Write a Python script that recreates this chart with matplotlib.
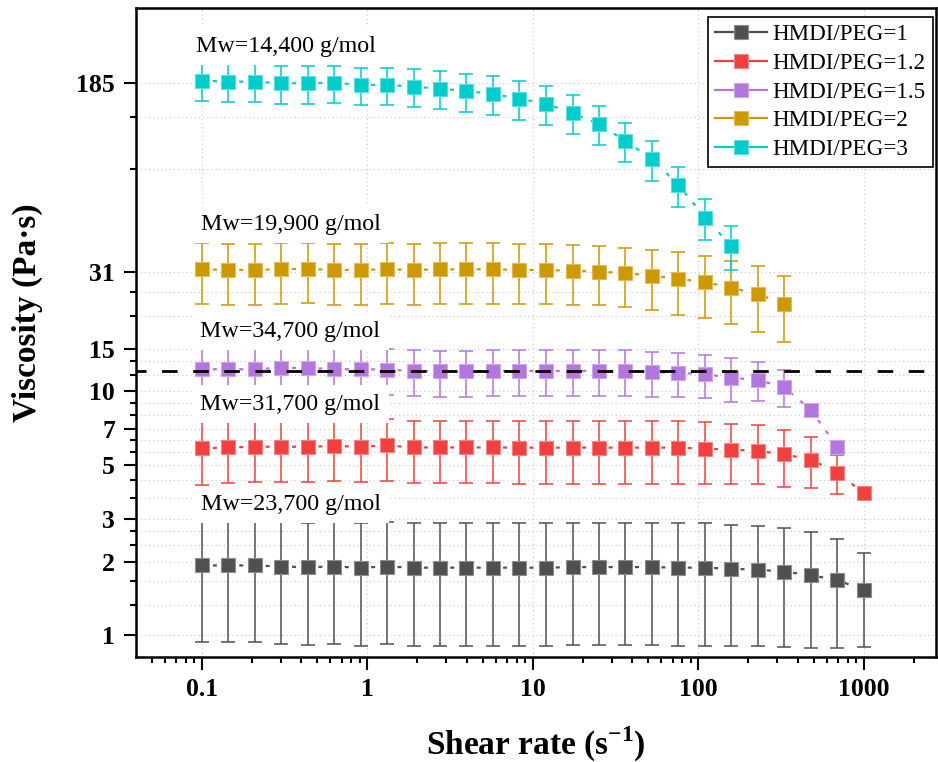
import matplotlib
matplotlib.use('Agg')
import matplotlib.pyplot as plt
from matplotlib.lines import Line2D
from matplotlib.ticker import FixedLocator, LogLocator, NullFormatter
from matplotlib.colors import to_rgb

plt.rcParams['font.family'] = ['Liberation Serif', 'DejaVu Serif']
plt.rcParams['mathtext.fontset'] = 'custom'
plt.rcParams['mathtext.rm'] = 'Liberation Serif'
plt.rcParams['mathtext.bf'] = 'Liberation Serif:bold'
plt.rcParams['lines.scale_dashes'] = False

# shear rate sweep (1/s)
shear_rate = [0.1, 0.145, 0.209, 0.302, 0.437, 0.631, 0.912, 1.32, 1.91, 2.75,
              3.98, 5.75, 8.32, 12.0, 17.4, 25.1, 36.3, 52.5, 75.9, 110,
              158, 229, 331, 479, 692, 1000]

# viscosity (Pa.s) and standard deviation for each HMDI/PEG ratio
visc_1 = [1.93, 1.93, 1.93, 1.91, 1.90, 1.91, 1.89, 1.91, 1.89, 1.89, 1.89, 1.89, 1.89,
          1.89, 1.90, 1.90, 1.90, 1.90, 1.89, 1.89, 1.87, 1.855, 1.82, 1.76, 1.68, 1.53]
err_1 = [0.99, 0.99, 0.99, 0.99, 0.99, 0.99, 0.99, 0.99, 0.99, 0.99, 0.99, 0.99, 0.99,
         0.99, 0.99, 0.99, 0.99, 0.99, 0.99, 0.99, 0.97, 0.95, 0.93, 0.88, 0.80, 0.64]

visc_12 = [5.84, 5.89, 5.93, 5.93, 5.93, 5.97, 5.93, 6.0, 5.89, 5.89, 5.89, 5.89, 5.88,
           5.88, 5.88, 5.88, 5.88, 5.88, 5.88, 5.82, 5.77, 5.70, 5.52, 5.25, 4.64, 3.83]
err_12 = [1.7, 1.7, 1.7, 1.7, 1.7, 1.7, 1.7, 1.7, 1.7, 1.7, 1.7, 1.7, 1.7,
          1.7, 1.7, 1.7, 1.7, 1.7, 1.7, 1.65, 1.6, 1.55, 1.45, 1.25, 0.83, 0.0]

visc_15 = [12.34, 12.34, 12.34, 12.5, 12.5, 12.34, 12.34, 12.3, 12.14, 12.1, 12.1, 12.14,
           12.14, 12.14, 12.14, 12.14, 12.14, 12.0, 11.93, 11.77, 11.39, 11.15, 10.40,
           8.40, 5.93]
err_15 = [2.6, 2.6, 2.6, 2.6, 2.6, 2.6, 2.6, 2.6, 2.6, 2.6, 2.6, 2.6,
          2.6, 2.6, 2.6, 2.6, 2.6, 2.5, 2.45, 2.4, 2.3, 2.05, 1.8, 0.0, 0.0]

visc_2 = [31.75, 31.55, 31.55, 31.75, 31.9, 31.55, 31.55, 31.75, 31.55, 31.75, 31.75,
          31.75, 31.55, 31.55, 31.3, 31.05, 30.6, 29.9, 29.0, 28.1, 26.7, 25.1, 22.9]
err_2 = [8.9, 8.9, 8.9, 8.9, 8.9, 8.9, 8.9, 8.9, 8.9, 8.9, 8.9, 8.9,
         8.75, 8.7, 8.6, 8.5, 8.4, 8.3, 8.3, 8.0, 7.7, 7.5, 7.0]

visc_3 = [189, 187.2, 187.2, 184.4, 184.4, 185.4, 181.4, 181.4, 178.5, 175.2, 171.4,
          166.6, 159.4, 152, 139.2, 125.5, 106.8, 90.1, 70.5, 51.8, 39.6]
err_3 = [33, 33, 33, 32.5, 32.5, 32.5, 32, 32, 31.5, 31, 30.5,
         30, 29, 28, 25.5, 22.5, 19.6, 17, 13.3, 10, 8]

labels = ['HMDI/PEG=1', 'HMDI/PEG=1.2', 'HMDI/PEG=1.5', 'HMDI/PEG=2', 'HMDI/PEG=3']
colors = ['#505050', '#F04040', '#B276DE', '#CC9900', '#00CCCC']
series = [(visc_1, err_1), (visc_12, err_12), (visc_15, err_15),
          (visc_2, err_2), (visc_3, err_3)]

# molecular weight notes: text, x, baseline y
mw_text = ['Mw=14,400 g/mol', 'Mw=19,900 g/mol', 'Mw=34,700 g/mol',
           'Mw=31,700 g/mol', 'Mw=23,700 g/mol']
mw_x = [0.093, 0.099, 0.098, 0.098, 0.099]
mw_y = [248.6, 46.0, 16.75, 8.40, 3.26]

ref_visc = 12.14

y_major = [1, 2, 3, 5, 7, 10, 15, 31, 185]
x_major = [0.1, 1, 10, 100, 1000]


def lighten(c, f=0.35):
    r, g, b = to_rgb(c)
    return (r + (1 - r) * f, g + (1 - g) * f, b + (1 - b) * f)


fig = plt.figure(figsize=(9.38, 7.62), dpi=100)
ax = fig.add_axes([0.145, 0.1378, 0.8529, 0.8517])

handles = []
for (v, e), c, lab in zip(series, colors, labels):
    x = shear_rate[:len(v)]
    ax.errorbar(x, v, yerr=e, fmt='none', ecolor=c, elinewidth=1.1,
                capsize=4.7, capthick=1.1, zorder=2)
    ax.plot(x, v, color=c, lw=1.6, ls=(1.45, (2.9, 6.6)), marker='s', ms=10,
            mfc=c, mec=lighten(c), mew=0.8, zorder=4)
    handles.append(Line2D([], [], color=c, lw=1.6, marker='s', ms=10,
                          mfc=c, mec=lighten(c), mew=0.8, label=lab))

for s, tx, ty in zip(mw_text, mw_x, mw_y):
    ax.text(tx, ty, s, fontsize=17.3, ha='left', va='baseline', zorder=3,
            bbox=dict(boxstyle='square,pad=0.35', fc='white', ec='none'))

ax.axhline(ref_visc, color='black', lw=2, ls=(4.0, (11.2, 11.2)), zorder=6)

ax.set_xscale('log')
ax.set_yscale('log')
ax.set_xlim(0.0401, 2735)
ax.set_ylim(0.812, 375.6)

ax.set_xticks(x_major, ['0.1', '1', '10', '100', '1000'],
              fontweight='bold', fontsize=18.5)
ax.xaxis.set_minor_locator(LogLocator(base=10, subs=range(2, 10)))
ax.xaxis.set_minor_formatter(NullFormatter())

# two minor ticks splitting each gap between labelled values
y_minor = []
for a, b in zip(y_major[:-1], y_major[1:]):
    y_minor += [a + (b - a) / 3, a + 2 * (b - a) / 3]
ax.set_yticks(y_major, [str(t) for t in y_major], fontweight='bold', fontsize=18.5)
ax.yaxis.set_minor_locator(FixedLocator(y_minor))
ax.yaxis.set_minor_formatter(NullFormatter())

ax.tick_params(which='major', direction='out', length=9, width=1.5, pad=6)
ax.tick_params(which='minor', direction='out', length=4.5, width=1.5)
ax.tick_params(top=False, right=False, which='both')
for sp in ax.spines.values():
    sp.set_linewidth(1.8)

ax.set_axisbelow(True)
ax.grid(True, which='major', axis='x', color='#c8c8c8', lw=0.8, ls=(0, (0.8, 2.2)))
ax.grid(True, which='both', axis='y', color='#c8c8c8', lw=0.8, ls=(0, (0.8, 2.2)))

ax.set_xlabel(r'Shear rate (s$^{\mathbf{-1}}$)', fontsize=24, fontweight='bold')
ax.set_ylabel('Viscosity (Pa·s)', fontsize=24, fontweight='bold')
ax.xaxis.set_label_coords(0.5, -0.104)
ax.yaxis.set_label_coords(-0.116, 0.53)

leg = ax.legend(handles=handles, loc='upper right', bbox_to_anchor=(0.996, 0.986),
                borderaxespad=0, fontsize=16.6, handlelength=2.25, handletextpad=0.24,
                borderpad=0.3, labelspacing=0.33, fancybox=False, framealpha=1,
                edgecolor='black', numpoints=1)
leg.get_frame().set_linewidth(1.2)
leg.set_zorder(10)

fig.savefig('out.png', dpi=100)
